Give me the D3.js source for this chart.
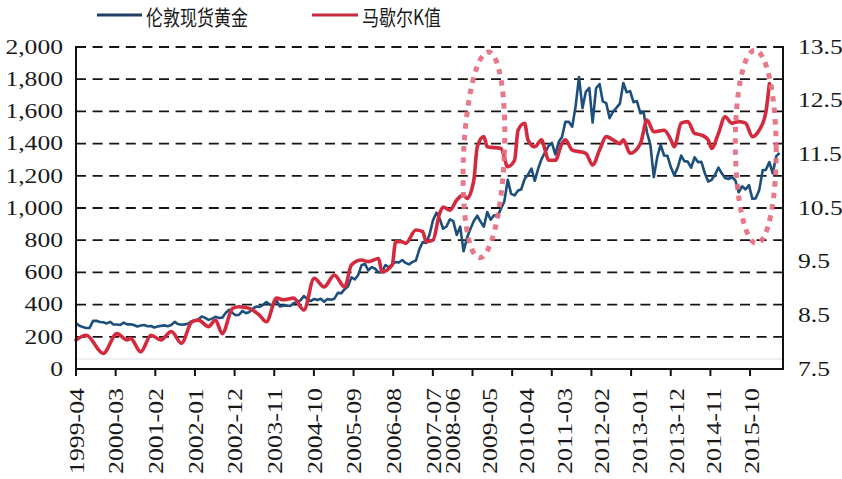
<!DOCTYPE html>
<html><head><meta charset="utf-8">
<script src="https://cdn.jsdelivr.net/npm/d3@7"></script>
<style>
html,body{margin:0;padding:0;background:#fff;}
svg{display:block;}
</style></head>
<body>
<svg id="chart" width="842" height="479"></svg>
<script>
// ---------- DATA ----------
const goldStart = "1999-04";
// London spot gold, month-end (USD/oz), 1999-04 .. 2016-07
const goldValues = [
 286,268,261,255,255,299,300,292,290,
 283,293,277,276,273,288,277,278,273,264,270,273,
 266,267,258,264,268,271,266,273,293,279,275,277,
 282,297,302,309,326,318,305,313,324,317,319,348,
 368,348,334,337,361,346,354,375,388,386,398,416,
 400,396,424,388,393,395,391,408,416,426,453,435,
 422,435,428,436,417,435,430,437,473,470,496,513,
 569,557,582,644,653,613,633,623,599,604,646,632,
 650,665,661,677,659,650,665,673,743,789,783,834,
 923,971,933,871,885,930,918,833,884,731,815,870,
 919,952,916,884,975,927,955,949,996,1040,1175,1088,
 1078,1109,1115,1180,1207,1244,1169,1246,1307,1346,1384,1405,
 1333,1411,1439,1535,1536,1505,1628,1813,1620,1722,1746,1531,
 1744,1770,1662,1651,1558,1598,1622,1648,1776,1719,1726,1657,
 1664,1588,1598,1469,1394,1192,1314,1394,1326,1324,1253,1204,
 1251,1326,1291,1288,1250,1315,1285,1287,1216,1164,1175,1206,
 1251,1214,1187,1180,1191,1172,1098,1135,1115,1142,1057,1060,
 1111,1234,1237,1285,1215,1320,1342
];
// Marshall K value (right axis)
const kDates = [
 "1999-04","1999-07","1999-12","2000-04","2000-07","2000-08","2000-11","2001-02","2001-05","2001-08",
 "2001-11","2002-02","2002-04","2002-07","2002-09","2002-11","2003-02","2003-04","2003-07","2003-10",
 "2003-12","2004-03","2004-05","2004-08","2004-11","2005-02","2005-05","2005-08","2005-11","2006-01",
 "2006-04","2006-06","2006-09","2006-10","2007-01","2007-02","2007-04","2007-05","2007-08","2007-10",
 "2007-11","2008-01","2008-03","2008-04","2008-06","2008-08","2008-10","2008-11","2009-01","2009-02",
 "2009-04","2009-05","2009-09","2009-11","2010-01","2010-02","2010-04","2010-05","2010-07","2010-09",
 "2010-10","2010-11","2011-01","2011-03","2011-04","2011-06","2011-10","2011-12","2012-02","2012-04",
 "2012-06","2012-08","2012-09","2012-11","2013-02","2013-04","2013-06","2013-09","2013-11","2013-12",
 "2014-02","2014-04","2014-06","2014-08","2014-10","2014-11","2015-01","2015-03","2015-05","2015-07",
 "2015-09","2015-11","2016-01","2016-03","2016-04"
];
const kValues = [
 8.04,8.13,7.79,8.16,8.04,8.07,7.82,8.13,8.04,8.20,
 7.98,8.38,8.41,8.29,8.41,8.16,8.63,8.66,8.63,8.50,
 8.38,8.82,8.79,8.82,8.60,9.19,9.03,9.25,9.03,9.44,
 9.53,9.50,9.56,9.31,9.44,9.87,9.87,9.84,10.09,10.06,
 9.87,9.90,10.40,10.52,10.46,10.65,10.74,10.68,11.02,11.64,
 11.83,11.64,11.61,11.27,11.39,11.95,12.08,11.77,11.64,11.77,
 11.58,11.39,11.39,11.70,11.77,11.58,11.52,11.30,11.58,11.83,
 11.77,11.70,11.77,11.52,11.70,12.14,11.92,11.95,11.77,11.64,
 12.08,12.11,11.89,11.86,11.77,11.61,11.89,12.20,12.08,12.11,
 12.08,11.83,11.95,12.29,12.82
];
const xLabels = ["1999-04","2000-03","2001-02","2002-01","2002-12","2003-11","2004-10","2005-09","2006-08","2007-07",
 "2008-06","2009-05","2010-04","2011-03","2012-02","2013-01","2013-12","2014-11","2015-10"];
const leftTicks = [0,200,400,600,800,1000,1200,1400,1600,1800,2000];
const rightTicks = [7.5,8.5,9.5,10.5,11.5,12.5,13.5];
const seriesNames = ["伦敦现货黄金","马歇尔K值"];
// highlighted regions (dotted ellipses): date range and left-axis value range
const highlightFrom = ["2008-10","2015-06"];
const highlightTo   = ["2009-10","2016-06"];
const highlightLow  = [690, 780];
const highlightHigh = [1970, 1980];

// ---------- LAYOUT ----------
const M = {left:76, right:783, top:47, bottom:369};
const BLUE = "#1d4f7c", RED = "#d42a3e", PINK = "#e66e80";
const parse = d3.timeParse("%Y-%m");
const start = parse(goldStart);
const goldDates = goldValues.map((v,i)=>d3.timeMonth.offset(start,i));
const endDate = d3.timeMonth.offset(start, goldValues.length);

const x = d3.scaleTime().domain([start,endDate]).range([M.left,M.right]);
const yL = d3.scaleLinear().domain([0,2000]).range([M.bottom,M.top]);
const yR = d3.scaleLinear().domain([7.5,13.5]).range([M.bottom,M.top]);
// category tick marks: evenly spaced, one per label interval
const tickScale = d3.scaleLinear().domain([0,xLabels.length-1]).range([M.left, M.left + (xLabels.length-1)*39.65]);

const svg = d3.select("#chart");
const serif = "'Liberation Serif','Times New Roman',serif";

// faint baseline band line
svg.append("line").attr("x1",M.left).attr("x2",M.right)
  .attr("y1",yR(7.686)).attr("y2",yR(7.686))
  .attr("stroke","#e2e2e2").attr("stroke-width",1.2);

// gridlines
svg.append("g").selectAll("line").data(leftTicks.filter(d=>d>0)).join("line")
  .attr("x1",M.left).attr("x2",M.right)
  .attr("y1",d=>yL(d)).attr("y2",d=>yL(d))
  .attr("stroke","#151515").attr("stroke-width",1.8)
  .attr("stroke-dasharray","10,6.6");

// lines
const goldLine = d3.line().x((d,i)=>x(goldDates[i])).y(d=>yL(d)).curve(d3.curveLinear);
const kLine = d3.line().x((d,i)=>x(parse(kDates[i]))).y(d=>yR(d)).curve(d3.curveMonotoneX);

svg.append("path").datum(goldValues).attr("d",goldLine)
  .attr("fill","none").attr("stroke",BLUE).attr("stroke-width",2.6)
  .attr("stroke-linejoin","round");
svg.append("path").datum(kValues).attr("d",kLine)
  .attr("fill","none").attr("stroke",RED).attr("stroke-width",3.6)
  .attr("stroke-linejoin","round").attr("stroke-linecap","round");

// axes
const axisG = svg.append("g");
axisG.append("line").attr("x1",M.left).attr("x2",M.left).attr("y1",M.top-1).attr("y2",M.bottom+1)
  .attr("stroke","#111").attr("stroke-width",2);
axisG.append("line").attr("x1",M.right).attr("x2",M.right).attr("y1",M.top-1).attr("y2",M.bottom+1)
  .attr("stroke","#111").attr("stroke-width",2);
axisG.append("line").attr("x1",M.left-1).attr("x2",M.right+1).attr("y1",M.bottom).attr("y2",M.bottom)
  .attr("stroke","#111").attr("stroke-width",2);

// x tick marks
const tickIdx = d3.range(xLabels.length).filter(i=>tickScale(i) < M.right-5);
axisG.append("g").selectAll("line").data(tickIdx).join("line")
  .attr("x1",i=>tickScale(i)).attr("x2",i=>tickScale(i))
  .attr("y1",M.bottom).attr("y2",M.bottom+7)
  .attr("stroke","#111").attr("stroke-width",2);

// x labels (first group sits on the even tick marks, later group on their dates)
const labelX = (d,i)=> i < 10 ? tickScale(i)+1 : x(parse(d))+3;
svg.append("g").selectAll("text").data(xLabels).join("text")
  .attr("transform",(d,i)=>`translate(${labelX(d,i)},388) rotate(-90)`)
  .attr("text-anchor","end").attr("dy","0.34em")
  .attr("font-family",serif).attr("font-size",20).attr("fill","#1a1a1a")
  .attr("textLength",86).attr("lengthAdjust","spacingAndGlyphs")
  .text(d=>d);

// left labels
const fmt = d3.format(",");
svg.append("g").selectAll("text").data(leftTicks).join("text")
  .attr("x",63).attr("y",d=>yL(d)).attr("dy","0.34em")
  .attr("text-anchor","end")
  .attr("font-family",serif).attr("font-size",20).attr("fill","#1a1a1a")
  .text(d=>fmt(d))
  .each(function(){ const w=this.getComputedTextLength(); this.setAttribute("textLength",w*1.28); this.setAttribute("lengthAdjust","spacingAndGlyphs"); });

// right labels
svg.append("g").selectAll("text").data(rightTicks).join("text")
  .attr("x",798).attr("y",d=>yR(d)).attr("dy","0.34em")
  .attr("text-anchor","start")
  .attr("font-family",serif).attr("font-size",20).attr("fill","#1a1a1a")
  .text(d=>d.toFixed(1))
  .each(function(){ const w=this.getComputedTextLength(); this.setAttribute("textLength",w*1.28); this.setAttribute("lengthAdjust","spacingAndGlyphs"); });

// dotted ellipses
const ell = svg.append("g");
highlightFrom.forEach((f,i)=>{
  const x0=x(parse(f)), x1=x(parse(highlightTo[i]));
  const yTop=yL(highlightHigh[i]), yBot=yL(highlightLow[i]);
  const cx=(x0+x1)/2, cy=(yTop+yBot)/2;
  ell.append("ellipse").attr("cx",cx).attr("cy",cy)
    .attr("rx",(x1-x0)/2).attr("ry",(yBot-yTop)/2)
    .attr("transform",`rotate(${i===0?2.5:-0.5},${cx},${cy})`)
    .attr("fill","none").attr("stroke",PINK).attr("stroke-width",5)
    .attr("stroke-dasharray","5.5,6").attr("opacity",0.92);
});

// legend
const lg = svg.append("g");
const legendItems = [
  {name:seriesNames[0], color:"#1f3c62", x0:97, x1:142, tx:146, tl:102},
  {name:seriesNames[1], color:"#c92a40", x0:312, x1:358, tx:362, tl:79}
];
legendItems.forEach(it=>{
  lg.append("line").attr("x1",it.x0).attr("x2",it.x1).attr("y1",15).attr("y2",15)
    .attr("stroke",it.color).attr("stroke-width",3);
  lg.append("text").attr("x",it.tx).attr("y",25)
    .attr("font-family","'Noto Sans CJK SC',sans-serif").attr("font-size",21).attr("fill","#1a1a1a")
    .attr("textLength",it.tl).attr("lengthAdjust","spacingAndGlyphs")
    .text(it.name);
});
</script>
</body></html>
